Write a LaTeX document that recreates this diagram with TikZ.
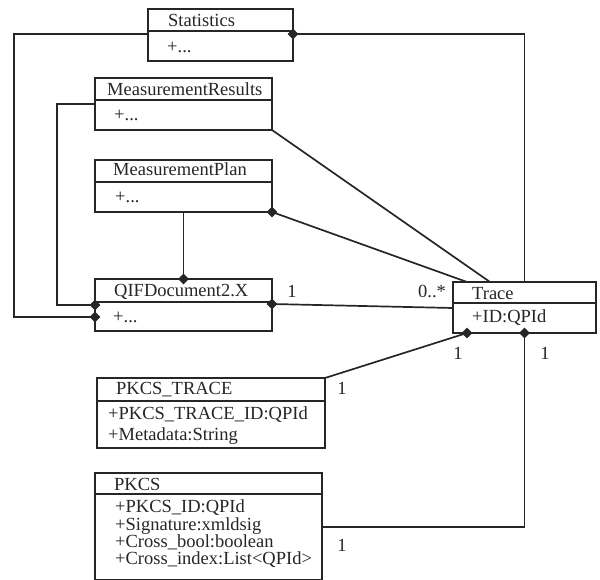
\documentclass[tikz,border=0pt]{standalone}
\usepackage{fontspec}
\setmainfont{Liberation Serif}
\usetikzlibrary{calc,shapes.geometric}
\definecolor{ink}{HTML}{262626}
\begin{document}
\begin{tikzpicture}[x=1pt,y=-1pt,
  cls/.style={draw=ink, line width=2pt, anchor=north west, inner sep=0pt, outer sep=0pt},
  divider/.style={draw=ink, line width=2pt},
  lbl/.style={anchor=base west, inner sep=0pt, text=ink, font=\fontsize{18.5}{18}\selectfont},
  mult/.style={anchor=base, inner sep=0pt, text=ink, font=\fontsize{18.5}{18}\selectfont},
  link/.style={draw=ink, line width=1.7pt},
  dmd/.style={diamond, fill=ink, draw=none, inner sep=0pt, minimum width=11pt, minimum height=11pt}]
\useasboundingbox (0,0) rectangle (600,580);

% class boxes
\node[cls, minimum width=145pt, minimum height=52pt]  (stat)  at (148,9)   {};
\node[cls, minimum width=177pt, minimum height=52pt]  (mr)    at (95,78)   {};
\node[cls, minimum width=177pt, minimum height=52pt]  (mp)    at (95,160)  {};
\node[cls, minimum width=177pt, minimum height=52pt]  (qif)   at (95,279)  {};
\node[cls, minimum width=143pt, minimum height=51pt]  (trace) at (453,282) {};
\node[cls, minimum width=228pt, minimum height=70pt]  (pkcsT) at (97,378)  {};
\node[cls, minimum width=227pt, minimum height=107pt] (pkcs)  at (95,473)  {};

% compartment dividers
\draw[divider] ($(stat.north west)+(0,22)$)  -- ($(stat.north east)+(0,22)$);
\draw[divider] ($(mr.north west)+(0,22)$)    -- ($(mr.north east)+(0,22)$);
\draw[divider] ($(mp.north west)+(0,22)$)    -- ($(mp.north east)+(0,22)$);
\draw[divider] ($(qif.north west)+(0,23)$)   -- ($(qif.north east)+(0,23)$);
\draw[divider] ($(trace.north west)+(0,21)$) -- ($(trace.north east)+(0,21)$);
\draw[divider] ($(pkcsT.north west)+(0,23)$) -- ($(pkcsT.north east)+(0,23)$);
\draw[divider] ($(pkcs.north west)+(0,21)$)  -- ($(pkcs.north east)+(0,21)$);

% class names and attributes
\node[lbl] (statN)  at (168,27)  {Statistics};
\node[lbl] (statA)  at (167,53)  {+...};
\node[lbl] (mrN)    at (107,96)  {MeasurementResults};
\node[lbl] (mrA)    at (114,121) {+...};
\node[lbl] (mpN)    at (113,176) {MeasurementPlan};
\node[lbl] (mpA)    at (115,203) {+...};
\node[lbl] (qifN)   at (114,297) {QIFDocument2.X};
\node[lbl] (qifA)   at (113,323) {+...};
\node[lbl] (trN)    at (472,299) {Trace};
\node[lbl] (trA)    at (472,323) {+ID:QPId};
\node[lbl] (ptN)    at (116,394) {PKCS\_TRACE};
\node[lbl] (ptA1)   at (108,419) {+PKCS\_TRACE\_ID:QPId};
\node[lbl] (ptA2)   at (108,440) {+Metadata:String};
\node[lbl] (pkN)    at (114,490) {PKCS};
\node[lbl] (pkA1)   at (115,512) {+PKCS\_ID:QPId};
\node[lbl] (pkA2)   at (115,530) {+Signature:xmldsig};
\node[lbl] (pkA3)   at (115,547) {+Cross\_bool:boolean};
\node[lbl] (pkA4)   at (115,564) {+Cross\_index:List<QPId>};

% attachment points
\coordinate (sL)  at ($(stat.north west)+(0,25)$);
\coordinate (sR)  at ($(stat.north east)+(0,25)$);
\coordinate (mrL) at ($(mr.north west)+(0,26)$);
\coordinate (qL1) at ($(qif.north west)+(0,26)$);
\coordinate (qL2) at ($(qif.north west)+(0,38)$);
\coordinate (qR)  at ($(qif.north east)+(0,25)$);
\coordinate (qT)  at (qif.north -| mp.south);
\coordinate (tA)  at ($(trace.north west)+(37,0)$);
\coordinate (tB)  at ($(trace.north west)+(14,0)$);
\coordinate (tL)  at ($(trace.north west)+(0,26)$);
\coordinate (tD1) at ($(trace.south west)+(14,0)$);
\coordinate (tD2) at (trace.south);
\coordinate (pkR) at ($(pkcs.north east)+(0,54)$);

% associations
\draw[link] (sL) -- ++(-134,0) |- (qL2);
\draw[link] (mrL) -- ++(-38,0) |- (qL1);
\draw[link] (sR) -| (trace.north);
\draw[link] (mr.south east) -- (tA);
\draw[link] (mp.south east) -- (tB);
\draw[link] (mp.south) -- (qT);
\draw[link] (qR) -- (tL);
\draw[link] (tD1) -- (pkcsT.north east);
\draw[link] (tD2) |- (pkR);

% composition diamonds
\node[dmd] (d1) at (sR) {};
\node[dmd] (d2) at (qT) {};
\node[dmd] (d3) at (qL1) {};
\node[dmd] (d4) at (qL2) {};
\node[dmd] (d5) at (mp.south east) {};
\node[dmd] (d6) at (qR) {};
\node[dmd] (d7) at (tD1) {};
\node[dmd] (d8) at (tD2) {};

% multiplicities
\node[mult] (m1) at (292,298) {1};
\node[mult] (m2) at (432,298) {0..*};
\node[mult] (m3) at (458,359) {1};
\node[mult] (m4) at (545,359) {1};
\node[mult] (m5) at (342,394) {1};
\node[mult] (m6) at (342,551) {1};
\end{tikzpicture}
\end{document}
